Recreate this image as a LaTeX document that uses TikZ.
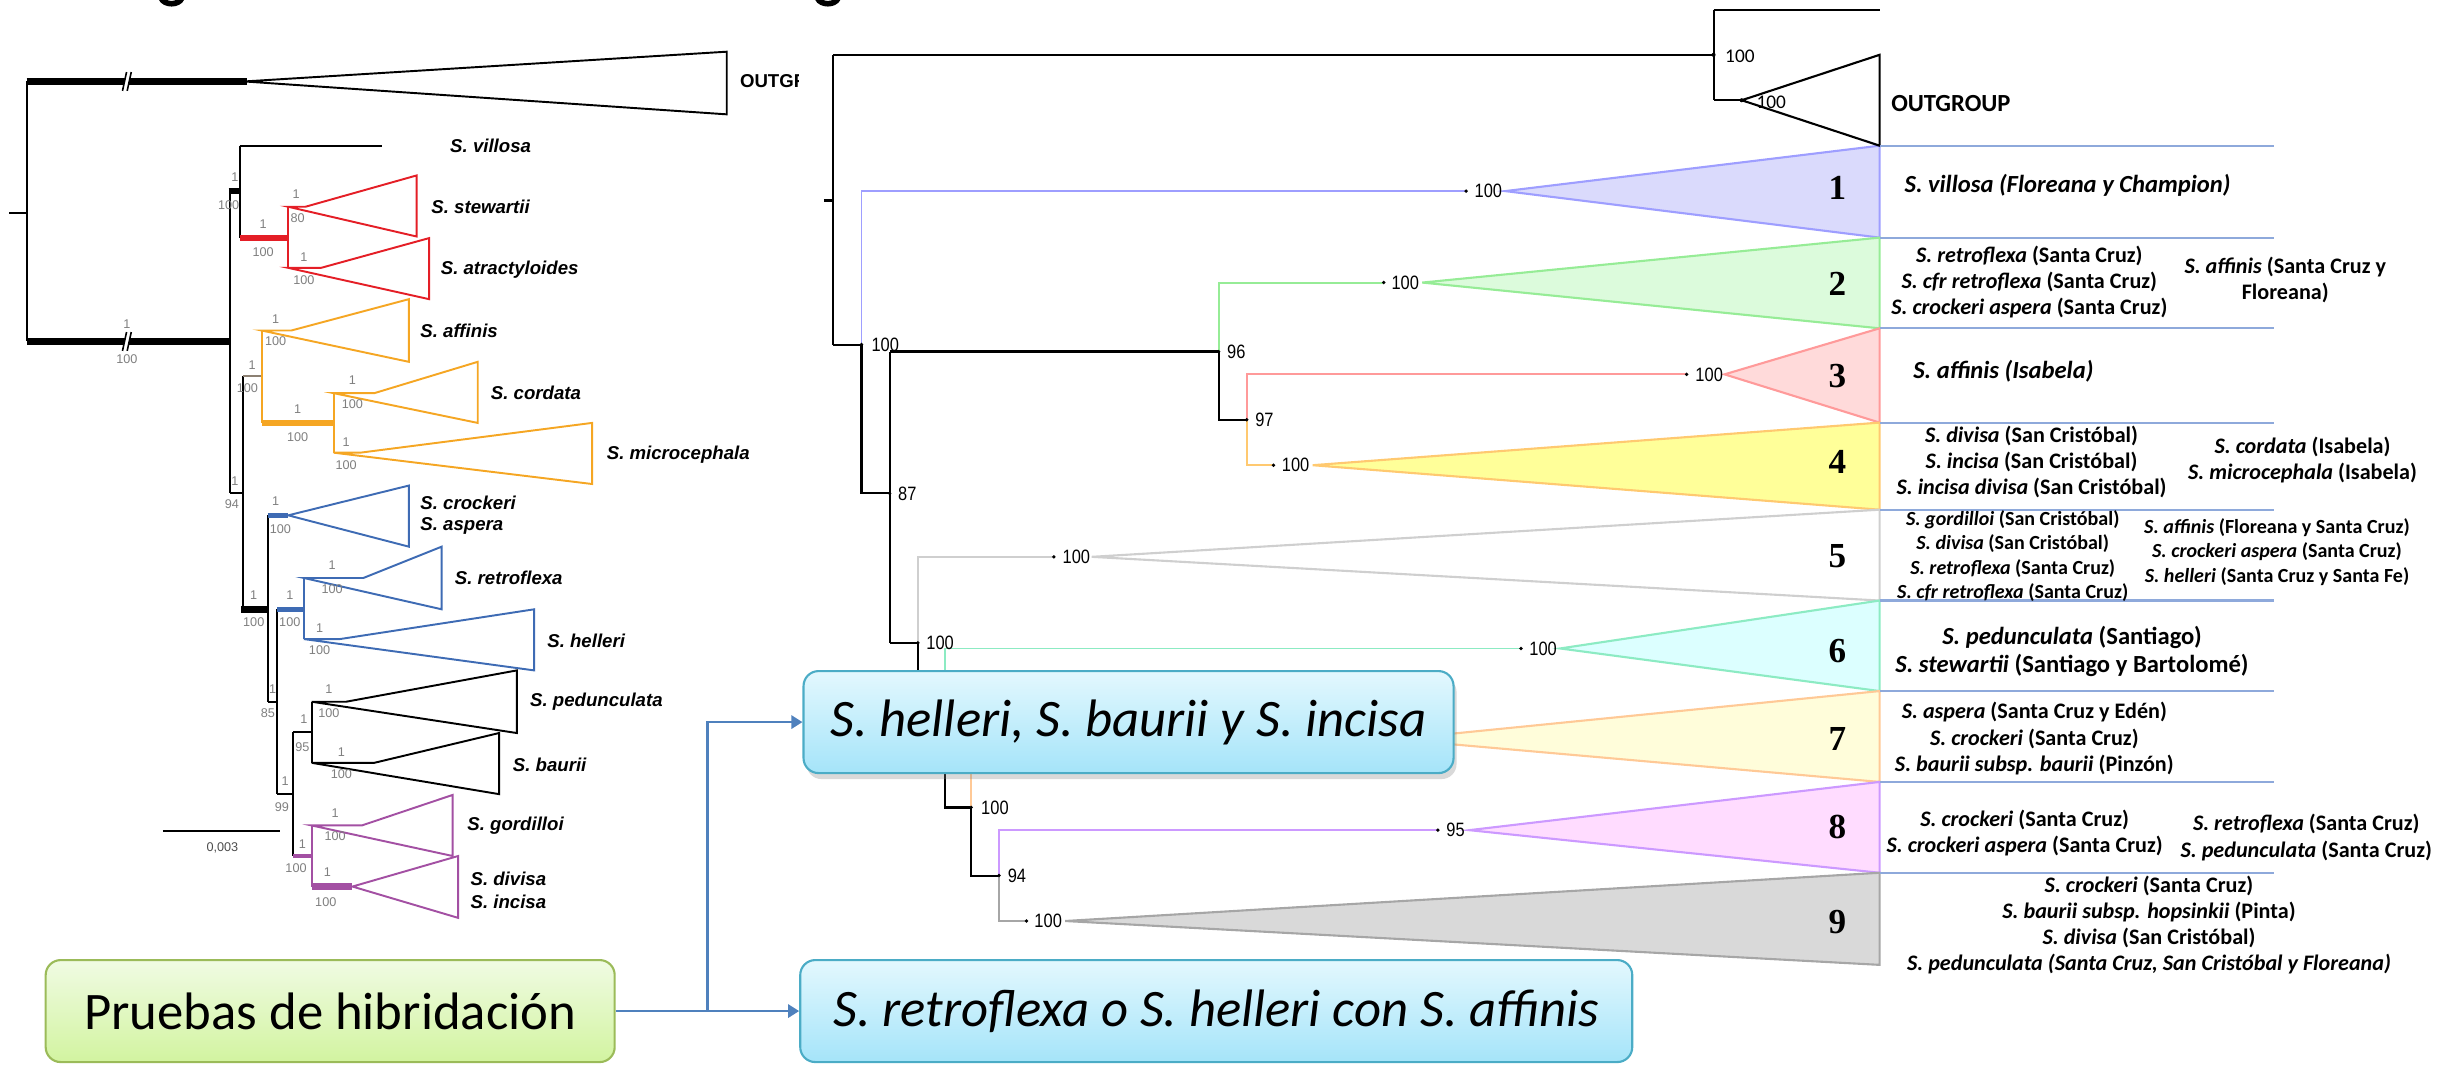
\documentclass[tikz,border=0pt]{standalone}
\usepackage{fontspec}
\setmainfont{Carlito}
\newfontfamily\arialf{Liberation Sans}
\newfontfamily\arialn[FakeStretch=0.85]{Liberation Sans}
\newfontfamily\timesf{Liberation Serif}
\newfontfamily\calf{Carlito}
\usetikzlibrary{shadows,arrows.meta}
\newcommand\cfs[2]{\fontsize{#1}{#2}\selectfont}
\definecolor{lred}{HTML}{E41E26}
\definecolor{lorange}{HTML}{F5A623}
\definecolor{lblue}{HTML}{3E6BB4}
\definecolor{lpurple}{HTML}{A350A3}
\definecolor{lgray}{HTML}{7F7F7F}
\definecolor{c1s}{HTML}{9E9EFF}\definecolor{c1f}{HTML}{DADAFC}
\definecolor{c2s}{HTML}{96EC96}\definecolor{c2f}{HTML}{DCFBDC}
\definecolor{c3s}{HTML}{FF9A9A}\definecolor{c3f}{HTML}{FFDADA}
\definecolor{c4s}{HTML}{FFC970}\definecolor{c4f}{HTML}{FFFF99}
\definecolor{c5s}{HTML}{CFCFCF}\definecolor{c5f}{HTML}{FFFFFF}
\definecolor{c6s}{HTML}{8CEBC3}\definecolor{c6f}{HTML}{DCFFFF}
\definecolor{c7s}{HTML}{FFC996}\definecolor{c7f}{HTML}{FFFDDA}
\definecolor{c8s}{HTML}{CC99FF}\definecolor{c8f}{HTML}{FFDCFF}
\definecolor{c9s}{HTML}{A6A6A6}\definecolor{c9f}{HTML}{D9D9D9}
\definecolor{sepblue}{HTML}{8EA9DB}
\definecolor{arrblue}{HTML}{4F81BD}
\definecolor{boxedge}{HTML}{4BACC6}
\definecolor{boxtop}{HTML}{E3F8FE}
\definecolor{boxbot}{HTML}{A5E4F9}
\definecolor{gedge}{HTML}{9BBB59}
\definecolor{gtop}{HTML}{F0FBE3}
\definecolor{gbot}{HTML}{D2F4A0}
\begin{document}
\begin{tikzpicture}[x=0.15663mm,y=-0.15663mm,
  lt/.style={line width=0.55pt,black},
  thk/.style={line width=1.9pt},
  lab/.style={font={\arialf\cfs{3.6}{4}},text=lgray,inner sep=0},
  spl/.style={font={\arialf\bfseries\itshape\cfs{5.3}{6}},anchor=west,inner sep=0},
  rb/.style={line width=0.6pt,black},
  cb/.style={line width=0.55pt},
  bs/.style={font={\arialn\cfs{5.5}{6}},anchor=west,inner sep=0},
  tri/.style={line width=0.6pt},
  sep/.style={draw=sepblue,line width=0.6pt},
  num/.style={font={\timesf\bfseries\cfs{10}{11}},inner sep=0},
  ctext/.style={font={\calf\bfseries\cfs{6.3}{7.4}},align=center,inner sep=0},
  box/.style={rounded corners=1.5mm,draw=boxedge,line width=0.6pt,top color=boxtop,bottom color=boxbot,
     minimum height=10.2mm,inner sep=0,font={\calf\itshape\cfs{15}{17}}},
  arr/.style={draw=arrblue,line width=0.8pt,-{Triangle[length=1.1mm,width=1.3mm]}},
  conn/.style={draw=arrblue,line width=0.8pt},
  brk/.pic={\fill[white] (-2.8,6) -- (0.2,6) -- (2.8,-6) -- (-0.2,-6) -- cycle;
            \draw[line width=0.45pt] (-2.8,6) -- (-0.2,-6) (0.2,6) -- (2.8,-6);}
]
\useasboundingbox (0,0) rectangle (1568,680);
% title descenders cut by the top edge
\draw[line width=1.6pt] (103,-1) .. controls (105,3.5) and (114,3.5) .. (116,-1);
\draw[line width=1.6pt] (522,-1) .. controls (524,3.5) and (533,3.5) .. (535,-1);

% ================= LEFT TREE =================
\begin{scope}
\clip (0,0) rectangle (510,680);
\draw[lt] (6,136) -- (17,136);
\draw[lt] (17,52) -- (17,218);
\draw[black,line width=2pt] (17,52) -- (158,52);
\draw[lt] (156,52) -- (464,33) -- (464,73) -- cycle;
\draw[black,line width=2pt] (17,218) -- (147,218);
\pic at (81,52) {brk};
\pic at (81,218) {brk};
\node[font={\arialf\bfseries\cfs{5.3}{6}},anchor=west,inner sep=0] (outl) at (472,52) {OUTGROUP};
% node A
\draw[lt] (147,122) -- (147,315);
\draw[black,thk] (146,122) -- (153,122);
\draw[lt] (153,93) -- (153,152);
\draw[lt] (153,93) -- (244,93);
% red clade
\draw[lred,thk] (153,152) -- (184,152);
\draw[lred,cb] (184,132) -- (184,171);
\draw[lred,cb] (184,132) -- (195,132) -- (266,112) -- (266,151) -- cycle;
\draw[lred,cb] (184,171) -- (205,171) -- (274,152) -- (274,191) -- cycle;
% B
\draw[lt] (147,315) -- (155,315);
\draw[lt] (155,240) -- (155,389);
\draw[color=gray!80!brown,cb] (155,240) -- (167,240);
% orange clade
\draw[lorange,cb] (167,211) -- (167,270);
\draw[lorange,cb] (167,211) -- (186,211) -- (261,191) -- (261,231) -- cycle;
\draw[lorange,thk] (167,270) -- (213,270);
\draw[lorange,cb] (213,251) -- (213,289);
\draw[lorange,cb] (213,251) -- (239,251) -- (305,231) -- (305,270) -- cycle;
\draw[lorange,cb] (213,289) -- (230,289) -- (378,270) -- (378,309) -- cycle;
% G
\draw[black,thk] (154,389) -- (171,389);
\draw[lt] (171,329) -- (171,448);
\draw[lblue,line width=1.4pt] (171,329) -- (184,329);
\draw[lblue,cb] (184,329) -- (261,310) -- (261,349) -- cycle;
\draw[lt] (171,448) -- (177,448);
\draw[lt] (177,389) -- (177,507);
\draw[lblue,line width=1.4pt] (177,389) -- (194,389);
\draw[lblue,cb] (194,369) -- (194,408);
\draw[lblue,cb] (194,369) -- (232,369) -- (282,349) -- (282,389) -- cycle;
\draw[lblue,cb] (194,408) -- (217,408) -- (341,389) -- (341,428) -- cycle;
\draw[lt] (177,507) -- (187,507);
\draw[lt] (187,467.5) -- (187,546.5);
\draw[lt] (187,467.5) -- (199,467.5);
\draw[lt] (199,448) -- (199,487);
\draw[lt] (199,448) -- (221,448) -- (330,428) -- (330,468) -- cycle;
\draw[lt] (199,487) -- (239,487) -- (318.6,468) -- (318.6,507) -- cycle;
\draw[lpurple,line width=1.2pt] (187,546.5) -- (199,546.5);
\draw[lpurple,cb] (199,527) -- (199,566);
\draw[lpurple,cb] (199,527) -- (231,527) -- (289,507.5) -- (289,546.5) -- cycle;
\draw[lpurple,thk] (199,566) -- (225,566);
\draw[lpurple,cb] (225,566) -- (292.5,546.5) -- (292.5,586) -- cycle;
% scale bar
\draw[lt] (104,530.5) -- (179,530.5);
\node[font={\arialf\cfs{3.6}{4}},text=black!70,inner sep=0] (scl) at (142,541) {0,003};
% support labels
\foreach \x/\y/\t [count=\i] in {81/207/1,81/229/100,150/113/1,146/131/100,168/143/1,168/161/100,
  189/124/1,190/139/80,194/164/1,194/179/100,161/233/1,158/248/100,176/204/1,176/218/100,
  190/261/1,190/279/100,225/243/1,225/258/100,221/282/1,221/297/100,150/307/1,148/322/94,
  176/320/1,179/338/100,162/380/1,162/397/100,185/380/1,185/397/100,174/440/1,171/455/85,
  212/361/1,212/376/100,204/401/1,204/415/100,182/499/1,180/515/99,194/459/1,193/477/95,
  210/440/1,210/455/100,218/480/1,218/494/100,193/539/1,189/554/100,214/519/1,214/534/100,
  209/557/1,208/576/100}
  \node[lab] (lsup\i) at (\x,\y) {\t};
% species labels
\node[spl] (sp1) at (287,93) {S. villosa};
\node[spl] (sp2) at (275,132) {S. stewartii};
\node[spl] (sp3) at (281,172) {S. atractyloides};
\node[spl] (sp4) at (268,211) {S. affinis};
\node[spl] (sp5) at (313,251) {S. cordata};
\node[spl] (sp6) at (387,290) {S. microcephala};
\node[spl] (sp7) at (268,321) {S. crockeri};
\node[spl] (sp8) at (268,336) {S. aspera};
\node[spl] (sp9) at (290,369) {S. retroflexa};
\node[spl] (sp10) at (349,409) {S. helleri};
\node[spl] (sp11) at (338,448) {S. pedunculata};
\node[spl] (sp12) at (327,488) {S. baurii};
\node[spl] (sp13) at (298,527) {S. gordilloi};
\node[spl] (sp14) at (300,561) {S. divisa};
\node[spl] (sp15) at (300,576) {S. incisa};
\end{scope}

% ================= RIGHT TREE =================
% triangles
\filldraw[tri,draw=c1s,fill=c1f] (961,122) -- (1200,93) -- (1200,151.7) -- cycle;
\filldraw[tri,draw=c2s,fill=c2f] (908,180.4) -- (1200,151.7) -- (1200,209.6) -- cycle;
\filldraw[tri,draw=c3s,fill=c3f] (1101,239) -- (1200,209.6) -- (1200,269.8) -- cycle;
\filldraw[tri,draw=c4s,fill=c4f] (838,297) -- (1200,269.8) -- (1200,325.4) -- cycle;
\filldraw[tri,draw=c5s,fill=c5f] (697,355.5) -- (1200,325.4) -- (1200,383.4) -- cycle;
\filldraw[tri,draw=c6s,fill=c6f] (996,414) -- (1200,383.4) -- (1200,441.2) -- cycle;
\filldraw[tri,draw=c7s,fill=c7f] (891,472) -- (1200,441.2) -- (1200,499.2) -- cycle;
\filldraw[tri,draw=c8s,fill=c8f] (938,530) -- (1200,499.2) -- (1200,557.2) -- cycle;
\filldraw[tri,draw=c9s,fill=c9f] (680,588) -- (1200,557.2) -- (1200,616) -- cycle;
% outgroup
\draw[rb] (526,128) -- (532,128);
\draw[rb] (532,35) -- (532,220);
\draw[rb,line width=0.7pt] (532,35) -- (1094,35);
\draw[rb] (1094,6.4) -- (1094,64);
\draw[rb] (1094,6.4) -- (1200,6.4);
\draw[rb] (1094,64) -- (1112,64);
\filldraw[rb,fill=white] (1112,64) -- (1200,35) -- (1200,93) -- cycle;
\fill (1094,35) circle (1.3);
\fill (1112,64) circle (1.3);
\node[font={\calf\cfs{5.5}{6}},anchor=west,inner sep=0] (og1) at (1101,36) {100};
\node[font={\calf\cfs{5.5}{6}},anchor=west,inner sep=0] (og2) at (1121,65) {100};
\node[font={\calf\bfseries\cfs{7}{8}},anchor=west,inner sep=0] (ogt) at (1207,66) {OUTGROUP};
% backbone
\draw[rb] (532,220) -- (550,220);
\draw[c1s,cb] (550,122) -- (550,220);
\draw[c1s,cb] (550,122) -- (936,122);
\draw[rb] (550,220) -- (550,315) -- (568,315);
\draw[rb] (568,224.5) -- (568,410.5);
\draw[rb,line width=0.8pt] (568,224.5) -- (778,224.5);
\draw[c2s,cb] (778,224.5) -- (778,180.4) -- (883.4,180.4);
\draw[rb] (778,224.5) -- (778,268) -- (796,268);
\draw[c3s,cb] (796,268) -- (796,239) -- (1076.8,239);
\draw[c4s,cb] (796,268) -- (796,297) -- (813,297);
\draw[rb] (568,410.5) -- (586,410.5);
\draw[c5s,cb] (586,410.5) -- (586,355.5) -- (672.8,355.5);
\draw[rb] (586,410.5) -- (586,450) -- (603.6,450);
\draw[c6s,cb] (603.6,450) -- (603.6,414) -- (971,414);
\draw[rb] (603.6,450) -- (603.6,515.5) -- (620,515.5);
\draw[c7s,cb] (620,515.5) -- (620,472) -- (891,472);
\draw[rb] (620,515.5) -- (620,559) -- (637.8,559);
\draw[c8s,cb] (637.8,559) -- (637.8,530) -- (918,530);
\draw[c9s,cb] (637.8,559) -- (637.8,588) -- (655.4,588);
% dots
\foreach \x/\y in {550/220,568/315,778/224.5,796/268,586/410.5,620/515.5,637.8/559,
   936/122,883.4/180.4,1076.8/239,813/297,672.8/355.5,971/414,918/530,655.4/588}
  \fill (\x,\y) circle (1.2);
% bootstrap labels
\foreach \x/\y/\t [count=\i] in {556/220/100,573/315/87,783/224.5/96,801/268/97,591/410.5/100,
   626/515.5/100,643/559/94,941/122/100,888/180.4/100,1082/239/100,818/297/100,678/355.5/100,
   976/414/100,923/530/95,660/588/100}
  \node[bs] (bsl\i) at (\x,\y) {\t};
% separators
\foreach \y [count=\i] in {93,151.7,209.6,269.8,325.4,383.4,441.2,499.2,557.2}
  \draw[sep] (1200,\y) -- (1452,\y);
% clade numbers
\foreach \y [count=\i] in {120,181,240,295,354.8,415.8,471.8,527.8,588.8}
  \node[num] (cn\i) at (1173,\y) {\i};
% clade texts
\node[ctext,font={\calf\bfseries\cfs{7}{8}}] (t1) at (1320,118) {\textit{S. villosa (Floreana y Champion)}};
\node[ctext] (t2a) at (1295.6,180) {\textit{S. retroflexa} (Santa Cruz)\\\textit{S. cfr retroflexa} (Santa Cruz)\\\textit{S. crockeri aspera} (Santa Cruz)};
\node[ctext] (t2b) at (1459,179) {\textit{S. affinis} (Santa Cruz y\\Floreana)};
\node[ctext,font={\calf\bfseries\cfs{7}{8}}] (t3) at (1279,237) {\textit{S. affinis (Isabela)}};
\node[ctext] (t4a) at (1297,295) {\textit{S. divisa} (San Cristóbal)\\\textit{S. incisa} (San Cristóbal)\\\textit{S. incisa divisa} (San Cristóbal)};
\node[ctext] (t4b) at (1470,294) {\textit{S. cordata} (Isabela)\\\textit{S. microcephala} (Isabela)};
\node[ctext,font={\calf\bfseries\cfs{5.7}{6.9}}] (t5a) at (1285,355) {\textit{S. gordilloi} (San Cristóbal)\\\textit{S. divisa} (San Cristóbal)\\\textit{S. retroflexa} (Santa Cruz)\\\textit{S. cfr retroflexa} (Santa Cruz)};
\node[ctext,font={\calf\bfseries\cfs{5.7}{6.9}}] (t5b) at (1453.7,352.5) {\textit{S. affinis} (Floreana y Santa Cruz)\\\textit{S. crockeri aspera} (Santa Cruz)\\\textit{S. helleri} (Santa Cruz y Santa Fe)};
\node[ctext,font={\calf\bfseries\cfs{7}{8}}] (t6) at (1322.8,416) {\textit{S. pedunculata} (Santiago)\\\textit{S. stewartii} (Santiago y Bartolomé)};
\node[ctext] (t7) at (1298.8,471.5) {\textit{S. aspera} (Santa Cruz y Edén)\\\textit{S. crockeri} (Santa Cruz)\\\textit{S. baurii subsp. baurii} (Pinzón)};
\node[ctext] (t8a) at (1292.6,532) {\textit{S. crockeri} (Santa Cruz)\\\textit{S. crockeri aspera} (Santa Cruz)};
\node[ctext] (t8b) at (1472.4,534.7) {\textit{S. retroflexa} (Santa Cruz)\\\textit{S. pedunculata} (Santa Cruz)};
\node[ctext] (t9) at (1372,590.5) {\textit{S. crockeri} (Santa Cruz)\\\textit{S. baurii subsp. hopsinkii} (Pinta)\\\textit{S. divisa} (San Cristóbal)\\\textit{S. pedunculata (Santa Cruz, San Cristóbal y Floreana)}};

% ================= CALLOUTS =================
\node[box,minimum width=65.0mm,drop shadow={shadow xshift=0.3mm,shadow yshift=-0.6mm,opacity=0.3}] (b1) at (720.5,461) {S. helleri, S. baurii y S. incisa};
\node[box,minimum width=83.2mm] (b2) at (776.5,645.5) {S. retroflexa o S. helleri con S. affinis};
\node[box,draw=gedge,top color=gtop,bottom color=gbot,minimum width=56.9mm,font={\calf\cfs{15}{17}}] (pru) at (210.8,645.5) {Pruebas de hibridación};
\coordinate (jn) at (451.5,645.5);
\draw[conn] (pru.east) -- (jn);
\draw[arr] (jn) -- (b2.west);
\draw[arr] (jn) |- (b1.west);
\end{tikzpicture}
\end{document}
